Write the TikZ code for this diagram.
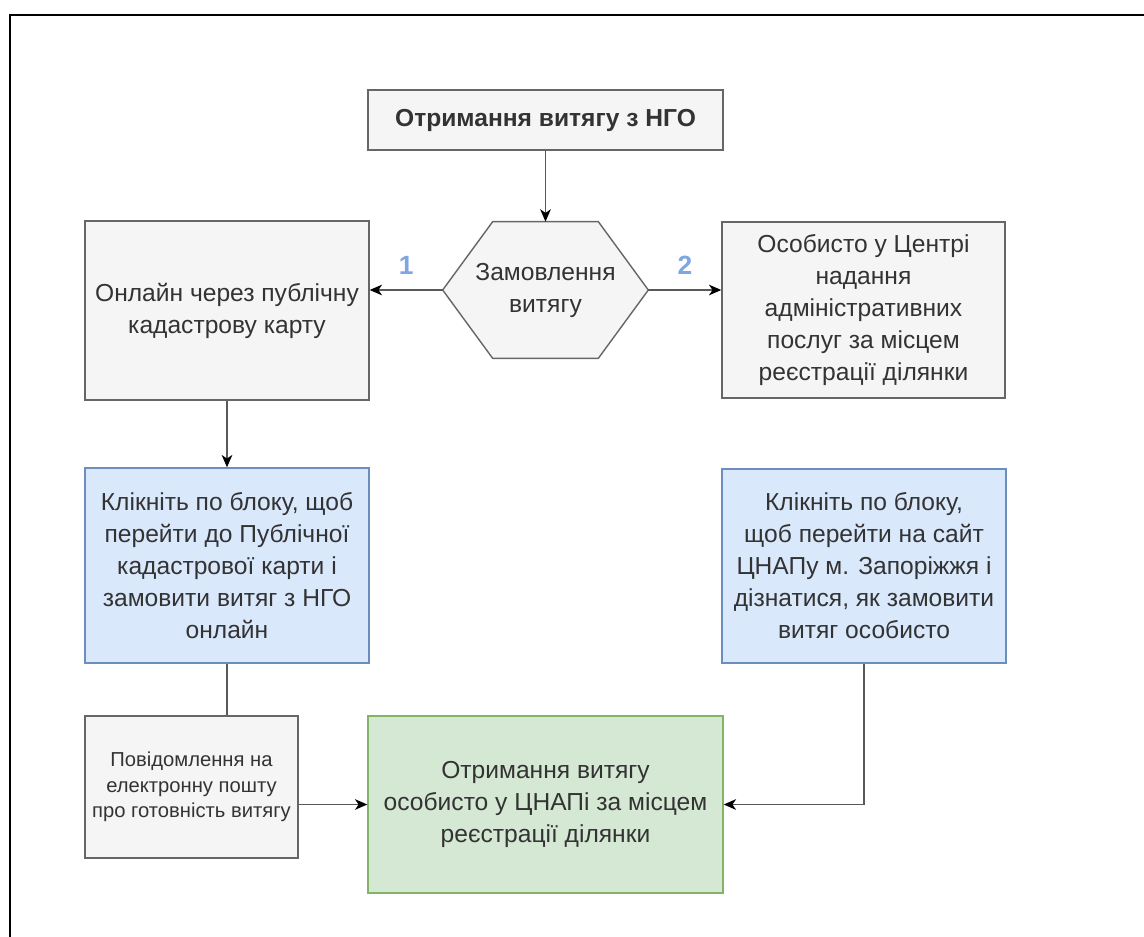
\documentclass[tikz,border=0pt]{standalone}
\usepackage{fontspec}
\setmainfont{Liberation Sans}
\usetikzlibrary{arrows.meta,calc}
\definecolor{grayfill}{HTML}{F5F5F5}
\definecolor{grayline}{HTML}{666666}
\definecolor{bluefill}{HTML}{DAE8FC}
\definecolor{blueline}{HTML}{6C8EBF}
\definecolor{greenfill}{HTML}{D5E8D4}
\definecolor{greenline}{HTML}{82B366}
\definecolor{txt}{HTML}{333333}
\definecolor{numblue}{HTML}{7EA6E0}
\begin{document}
\begin{tikzpicture}[x=0.02cm,y=-0.02cm,
    box/.style={rectangle,draw=grayline,fill=grayfill,line width=0.8pt,text=txt,align=center,
      font=\fontsize{14}{18.2}\selectfont,inner sep=1pt},
    bluebox/.style={box,draw=blueline,fill=bluefill},
    greenbox/.style={box,draw=greenline,fill=greenfill},
    wire/.style={draw=black!65,line width=1pt},
    conn/.style={wire,-{Stealth[length=7pt,width=6pt,inset=2pt,black]}},
    num/.style={text=numblue,font=\fontsize{15}{18}\selectfont\bfseries}]
  \clip (0,0) rectangle (1144,937);
  \draw[line width=1.2pt] (10,15) rectangle (1200,1000);
  \node at (545.5,120) [box,minimum width=7.1cm,minimum height=1.2cm,font=\fontsize{14}{18}\selectfont\bfseries] (title) {Отримання витягу з НГО};
  \node at (545.5,290) [minimum width=4.1cm,minimum height=2.72cm] (order) {};
  \draw[draw=grayline,fill=grayfill,line width=0.8pt] (order.west) -- ($(order.north west)+(50,0)$) -- ($(order.north east)+(-50,0)$)
    -- (order.east) -- ($(order.south east)+(-50,0)$) -- ($(order.south west)+(50,0)$) -- cycle;
  \node at (order.center) [text=txt,align=center,font=\fontsize{14}{18.2}\selectfont] (ordertext) {Замовлення\\витягу};
  \node at (227,310.5) [box,minimum width=5.68cm,minimum height=3.58cm] (online) {Онлайн через публічну\\кадастрову карту};
  \node at (863.5,310) [box,minimum width=5.66cm,minimum height=3.52cm] (personal) {Особисто у Центрі\\надання\\адміністративних\\послуг за місцем\\реєстрації ділянки};
  \node at (227,565.5) [bluebox,minimum width=5.68cm,minimum height=3.9cm] (clickL) {Клікніть по блоку, щоб\\перейти до Публічної\\кадастрової карти і\\замовити витяг з НГО\\онлайн};
  \node at (864,566) [bluebox,minimum width=5.68cm,minimum height=3.88cm] (clickR) {Клікніть по блоку,\\щоб перейти на сайт\\ЦНАПу м. Запоріжжя і\\дізнатися, як замовити\\витяг особисто};
  \node at (191.5,787) [box,minimum width=4.26cm,minimum height=2.84cm,font=\fontsize{11.5}{14.5}\selectfont] (notify) {Повідомлення на\\електронну пошту\\про готовність витягу};
  \node at (545.5,804.5) [greenbox,minimum width=7.1cm,minimum height=3.54cm] (result) {Отримання витягу\\особисто у ЦНАПі за місцем\\реєстрації ділянки};
  \draw[conn] (title) -- (order.north);
  \draw[conn] (order.west) -- node[num,above=5pt] {1} (order.west -| online.east);
  \draw[conn] (order.east) -- node[num,above=5pt] {2} (order.east -| personal.west);
  \draw[conn] (online) -- (clickL);
  \draw[wire] (clickL.south) -- (clickL.south |- notify.north);
  \draw[conn] (notify.east |- result.west) -- (result.west);
  \draw[conn] (clickR.south) |- (result.east);
\end{tikzpicture}
\end{document}
